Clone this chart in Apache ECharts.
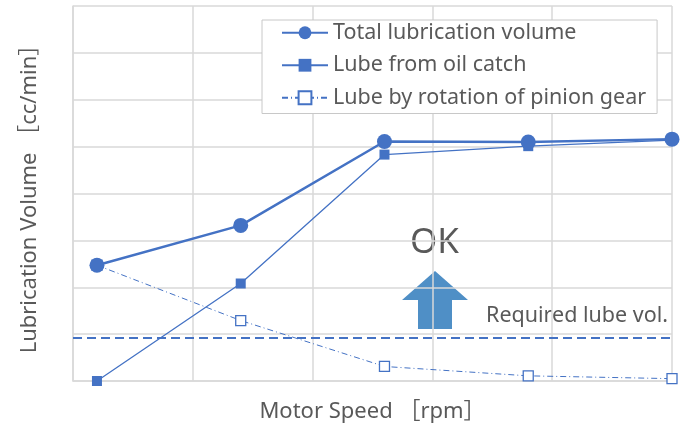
<!DOCTYPE html>
<html><head><meta charset="utf-8">
<script src="https://cdn.jsdelivr.net/npm/echarts@6/dist/echarts.min.js"></script>
<style>html,body{margin:0;padding:0;background:#fff}#c{width:684px;height:425px}</style>
</head><body><div id="c"></div>
<script>
// Data
const motorSpeed = [0.2, 1.4, 2.6, 3.8, 5.0];
const totalVolume = [2.47, 3.32, 5.11, 5.10, 5.16];
const oilCatch = [0.0, 2.08, 4.83, 5.01, 5.14];
const pinionGear = [2.47, 1.29, 0.31, 0.11, 0.05];
const requiredLube = 0.92;
const seriesNames = ['Total lubrication volume', 'Lube from oil catch', 'Lube by rotation of pinion gear'];

const FONT = '"Noto Sans", "Noto Sans CJK JP", sans-serif';
const BLUE = '#4472C4';
const TXT = '#595959';
const GRID = '#D9D9D9';
const pair = a => motorSpeed.map((x, i) => [x, a[i]]);

const chart = echarts.init(document.getElementById('c'), null, {renderer: 'canvas'});
chart.setOption({
  animation: false,
  textStyle: {fontFamily: FONT},
  grid: {left: 73, right: 12, top: 6, bottom: 44, containLabel: false, outerBoundsMode: 'none'},
  xAxis: {
    type: 'value', min: 0, max: 5, interval: 1,
    name: 'Motor Speed ［rpm］', nameLocation: 'middle', nameGap: 20,
    nameTextStyle: {fontSize: 22, color: TXT, fontFamily: FONT},
    axisLabel: {show: false}, axisTick: {show: false},
    axisLine: {lineStyle: {color: GRID, width: 1.5}},
    splitLine: {lineStyle: {color: GRID, width: 1.5}}
  },
  yAxis: {
    type: 'value', min: 0, max: 8, interval: 1,
    name: 'Lubrication Volume ［cc/min］', nameLocation: 'middle', nameGap: 32,
    nameTextStyle: {fontSize: 22, color: TXT, fontFamily: FONT},
    axisLabel: {show: false}, axisTick: {show: false},
    axisLine: {show: true, lineStyle: {color: GRID, width: 1.5}},
    splitLine: {lineStyle: {color: GRID, width: 1.5}}
  },
  legend: {
    orient: 'vertical', left: 262, top: 20,
    padding: [2, 11, 5, 19],
    itemWidth: 46, itemHeight: 16, itemGap: 11,
    borderColor: '#C8C8C8', borderWidth: 1, borderRadius: 0,
    backgroundColor: '#fff',
    textStyle: {fontSize: 21.5, lineHeight: 18, color: TXT, fontFamily: FONT, padding: [0, 0, 0, 0]},
    data: seriesNames
  },
  series: [
    {
      name: seriesNames[1], type: 'line', data: pair(oilCatch),
      symbol: 'rect', symbolSize: 10,
      lineStyle: {color: BLUE, width: 1.3}, itemStyle: {color: BLUE}, z: 3
    },
    {
      name: seriesNames[2], type: 'line', data: pair(pinionGear),
      symbol: 'rect', symbolSize: 10,
      lineStyle: {color: BLUE, width: 1, type: [6, 3, 1, 3]},
      itemStyle: {color: '#fff', borderColor: BLUE, borderWidth: 1.3}, z: 2,
      markLine: {
        silent: true, symbol: 'none', label: {show: false},
        lineStyle: {color: BLUE, width: 2.2, type: [9, 5]},
        data: [{yAxis: requiredLube}]
      }
    },
    {
      name: seriesNames[0], type: 'line', data: pair(totalVolume),
      symbol: 'circle', symbolSize: 15,
      lineStyle: {color: BLUE, width: 2.5}, itemStyle: {color: BLUE}, z: 4
    }
  ],
  graphic: [
    {type: 'text', left: 410, top: 226, style: {text: 'OK', fontSize: 35, fill: TXT, fontFamily: FONT}},
    {type: 'polygon', shape: {points: [[435, 271], [468, 300], [452, 300], [452, 329], [418, 329], [418, 300], [402, 300]]}, style: {fill: '#4F8FC6'}},
    {type: 'text', right: 16, top: 305, style: {text: 'Required lube vol.', fontSize: 21.5, fill: TXT, fontFamily: FONT}}
  ]
});
</script></body></html>
